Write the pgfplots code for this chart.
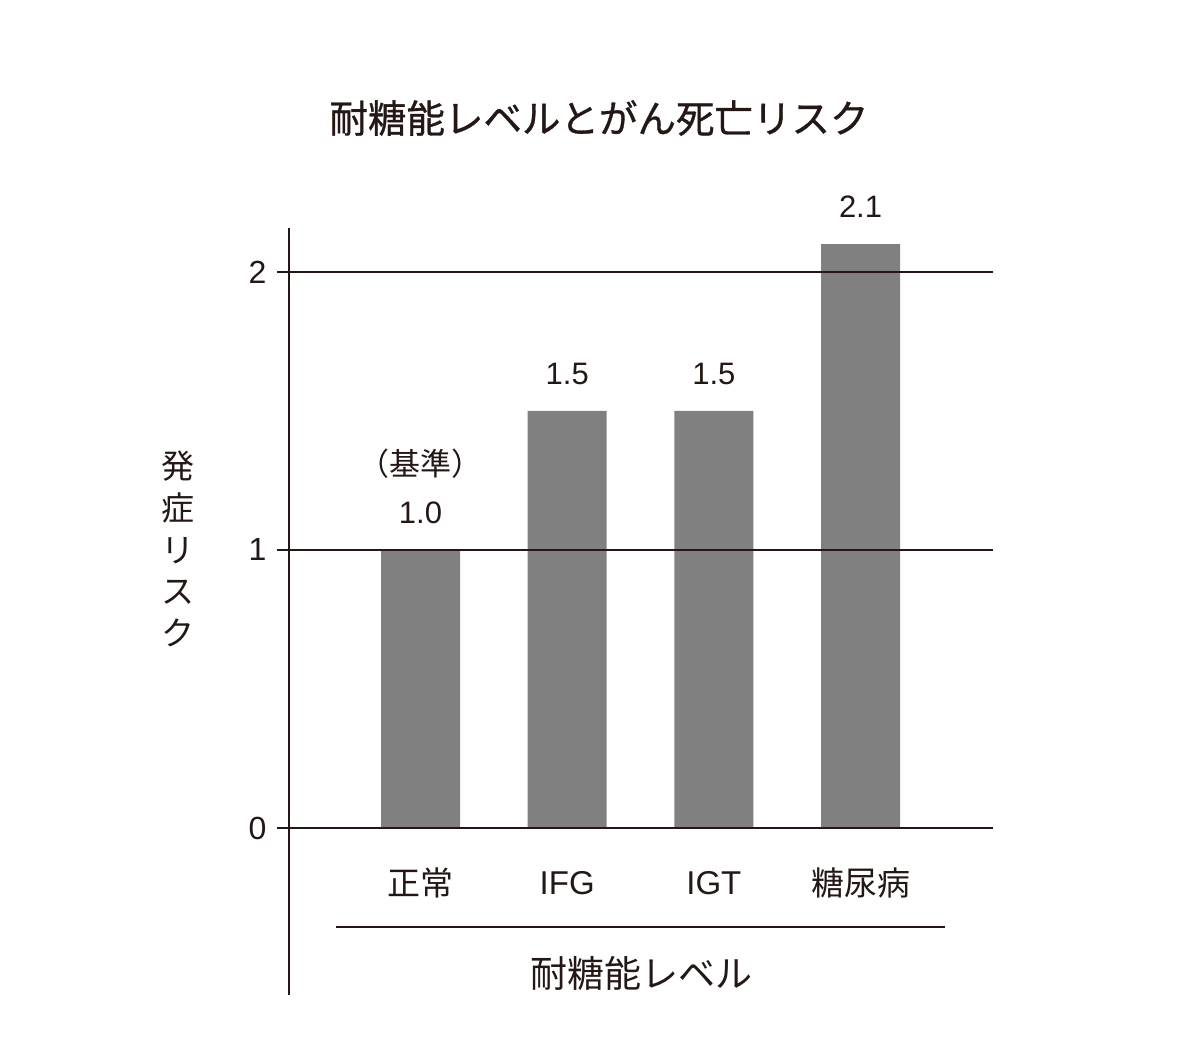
\documentclass[border=0pt]{standalone}
\usepackage{fontspec}
\setmainfont{Noto Sans CJK JP}
\newfontfamily\numfont{Liberation Sans}
\newfontfamily\titlefont{Noto Sans CJK JP}[FakeBold=0.8]
\usepackage{pgfplots}
\pgfplotsset{compat=1.18}
\definecolor{ink}{RGB}{35,24,21}
\definecolor{bargray}{RGB}{128,128,128}
\begin{document}
\begin{tikzpicture}
\useasboundingbox[fill=white] (0,0) rectangle (1200bp,1064bp);
\begin{axis}[
  at={(289bp,69bp)}, anchor=south west,
  scale only axis, width=704bp, height=767bp,
  xmin=-0.8966, xmax=3.903, ymin=-0.6007, ymax=2.158,
  axis on top,
  axis lines*=left,
  x axis line style={draw=none},
  y axis line style={-, line width=1.5bp, draw=ink},
  xtick={0,1,2,3},
  xticklabels={正常,{\numfont IFG},{\numfont IGT},糖尿病},
  xtick style={draw=none},
  xticklabel style={font=\fontsize{33bp}{33bp}\selectfont, text=ink, anchor=center, inner sep=0pt, yshift=124bp},
  ytick={0,1,2},
  ymajorgrids,
  grid style={line width=1.5bp, draw=ink},
  ytick style={line width=1.5bp, draw=ink},
  major tick length=12bp,
  tick align=outside,
  yticklabel style={font=\numfont\fontsize{32bp}{32bp}\selectfont, text=ink, xshift=-7bp, /pgf/number format/assume math mode=true},
  xlabel={耐糖能レベル},
  every axis x label/.style={at={(axis description cs:0.5,0.0287)}, anchor=center, font=\fontsize{37bp}{37bp}\selectfont, text=ink},
  ylabel={発\\症\\リ\\ス\\ク},
  every axis y label/.style={at={(axis description cs:0,0.5815)}, xshift=-111bp, anchor=center, align=center, font=\fontsize{33bp}{41.75bp}\selectfont, text=ink},
  title={耐糖能レベルとがん死亡リスク},
  every axis title/.style={at={(axis description cs:0.4403,1)}, yshift=110bp, anchor=center, font=\titlefont\fontsize{38.5bp}{38.5bp}\selectfont, text=ink},
]
\addplot[ybar, bar width=79bp, fill=bargray, draw=none,
  nodes near coords={\pgfmathprintnumber[fixed,fixed zerofill,precision=1,assume math mode=true]{\pgfplotspointmeta}},
  every node near coord/.style={font=\numfont\fontsize{31bp}{31bp}\selectfont, text=ink, anchor=center, yshift=37bp}]
  coordinates {(0,1.0) (1,1.5) (2,1.5) (3,2.1)};
\node[font=\fontsize{31bp}{31bp}\selectfont, text=ink, anchor=center] at (axis cs:0,1.309) {（基準）};
\draw[line width=1.5bp, ink] (axis cs:-0.576,-0.356) -- (axis cs:3.576,-0.356);
\end{axis}
\end{tikzpicture}
\end{document}
